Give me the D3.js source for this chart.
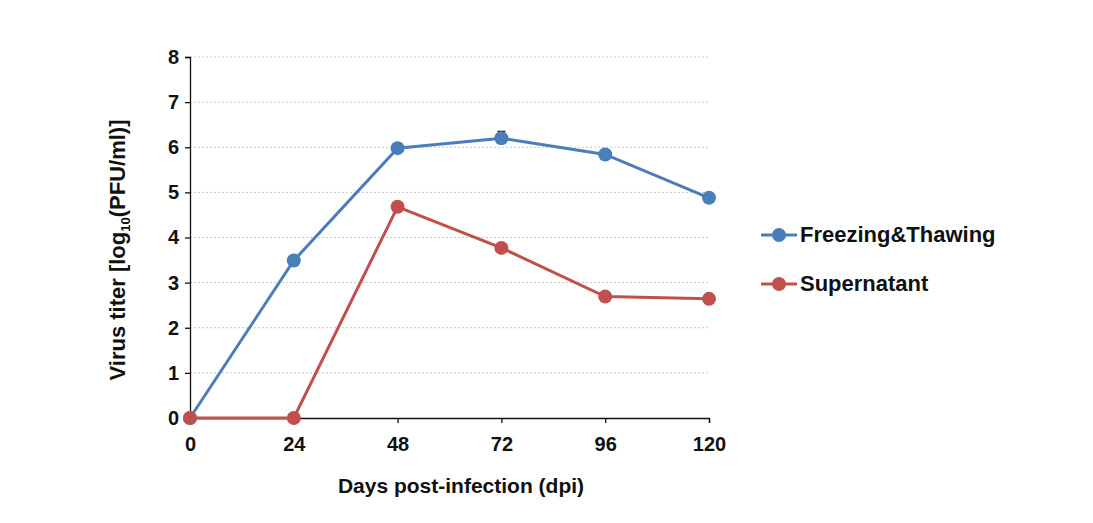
<!DOCTYPE html>
<html><head><meta charset="utf-8">
<script src="https://cdn.jsdelivr.net/npm/d3@7"></script>
<style>body{margin:0;background:#fff;} text{font-family:"Liberation Sans",Arial,sans-serif;font-weight:bold;fill:#111;}</style>
</head><body>
<svg id="c" width="1093" height="523"></svg>
<script>
const xTicks = [0, 24, 48, 72, 96, 120];
const yTicks = [0, 1, 2, 3, 4, 5, 6, 7, 8];
const freezing = [0, 3.49, 5.98, 6.2, 5.84, 4.88];
const freezingErr = [0, 0, 0, 0.15, 0, 0];
const supernatant = [0, 0, 4.68, 3.77, 2.69, 2.64];
const seriesNames = ["Freezing&Thawing", "Supernatant"];
const colors = ["#4A7EBB", "#C0504D"];

const svg = d3.select("#c");
const x = d3.scaleLinear().domain([0, 120]).range([190, 709]);
const y = d3.scaleLinear().domain([0, 8]).range([418, 57]);

// gridlines
svg.append("g").selectAll("line").data(yTicks.slice(1)).join("line")
  .attr("x1", x(0)).attr("x2", x(120))
  .attr("y1", d => y(d)).attr("y2", d => y(d))
  .attr("stroke", "#c8c8c8").attr("stroke-width", 1).attr("stroke-dasharray", "2,2");

// axes
const yAxis = svg.append("g").attr("transform", `translate(${x(0)},0)`)
  .call(d3.axisLeft(y).tickValues(yTicks).tickSize(5).tickPadding(6).tickFormat(d3.format("d")));
const xAxis = svg.append("g").attr("transform", `translate(0,${y(0)})`)
  .call(d3.axisBottom(x).tickValues(xTicks).tickSize(5).tickPadding(14).tickFormat(d3.format("d")));
[yAxis, xAxis].forEach(a => {
  a.select(".domain").attr("stroke", "#111").attr("stroke-width", 1.3);
  a.selectAll(".tick line").attr("stroke", "#111").attr("stroke-width", 1.3);
  a.selectAll("text").style("font-size", "20px").style("font-weight", "bold").attr("fill", "#111");
});
xAxis.selectAll(".tick").filter(d => d === 0).select("line").remove();

const data = [freezing, supernatant];
const line = d3.line().x((d, i) => x(xTicks[i])).y(d => y(d));
data.forEach((s, k) => {
  svg.append("path").datum(s).attr("d", line).attr("fill", "none")
    .attr("stroke", colors[k]).attr("stroke-width", 3);
});
// error bars
const errs = freezingErr.map((e, i) => ({e, i})).filter(d => d.e > 0);
svg.append("g").selectAll("line").data(errs).join("line")
  .attr("x1", d => x(xTicks[d.i])).attr("x2", d => x(xTicks[d.i]))
  .attr("y1", d => y(freezing[d.i] + d.e)).attr("y2", d => y(freezing[d.i] - d.e))
  .attr("stroke", "#222").attr("stroke-width", 1.5);
svg.append("g").selectAll("line").data(errs).join("line")
  .attr("x1", d => x(xTicks[d.i]) - 4).attr("x2", d => x(xTicks[d.i]) + 4)
  .attr("y1", d => y(freezing[d.i] + d.e)).attr("y2", d => y(freezing[d.i] + d.e))
  .attr("stroke", "#222").attr("stroke-width", 1.5);
data.forEach((s, k) => {
  svg.append("g").selectAll("circle").data(s).join("circle")
    .attr("cx", (d, i) => x(xTicks[i])).attr("cy", d => y(d)).attr("r", 7)
    .attr("fill", colors[k]);
});

// titles
svg.append("text").attr("x", 461).attr("y", 493).attr("text-anchor", "middle")
  .style("font-size", "21px").text("Days post-infection (dpi)");
const yt = svg.append("text").attr("transform", "translate(125,250) rotate(-90)")
  .attr("text-anchor", "middle").style("font-size", "22px");
yt.append("tspan").text("Virus titer [log");
yt.append("tspan").attr("dy", 5).style("font-size", "13px").text("10");
yt.append("tspan").attr("dy", -5).text("(PFU/ml)]");

// legend
const lg = svg.append("g");
seriesNames.forEach((n, k) => {
  const ly = 235 + k * 49;
  lg.append("line").attr("x1", 761).attr("x2", 797).attr("y1", ly).attr("y2", ly)
    .attr("stroke", colors[k]).attr("stroke-width", 3);
  lg.append("circle").attr("cx", 779).attr("cy", ly).attr("r", 7).attr("fill", colors[k]);
  lg.append("text").attr("x", 800).attr("y", ly + 7).style("font-size", "22px").text(n);
});
</script>
</body></html>
